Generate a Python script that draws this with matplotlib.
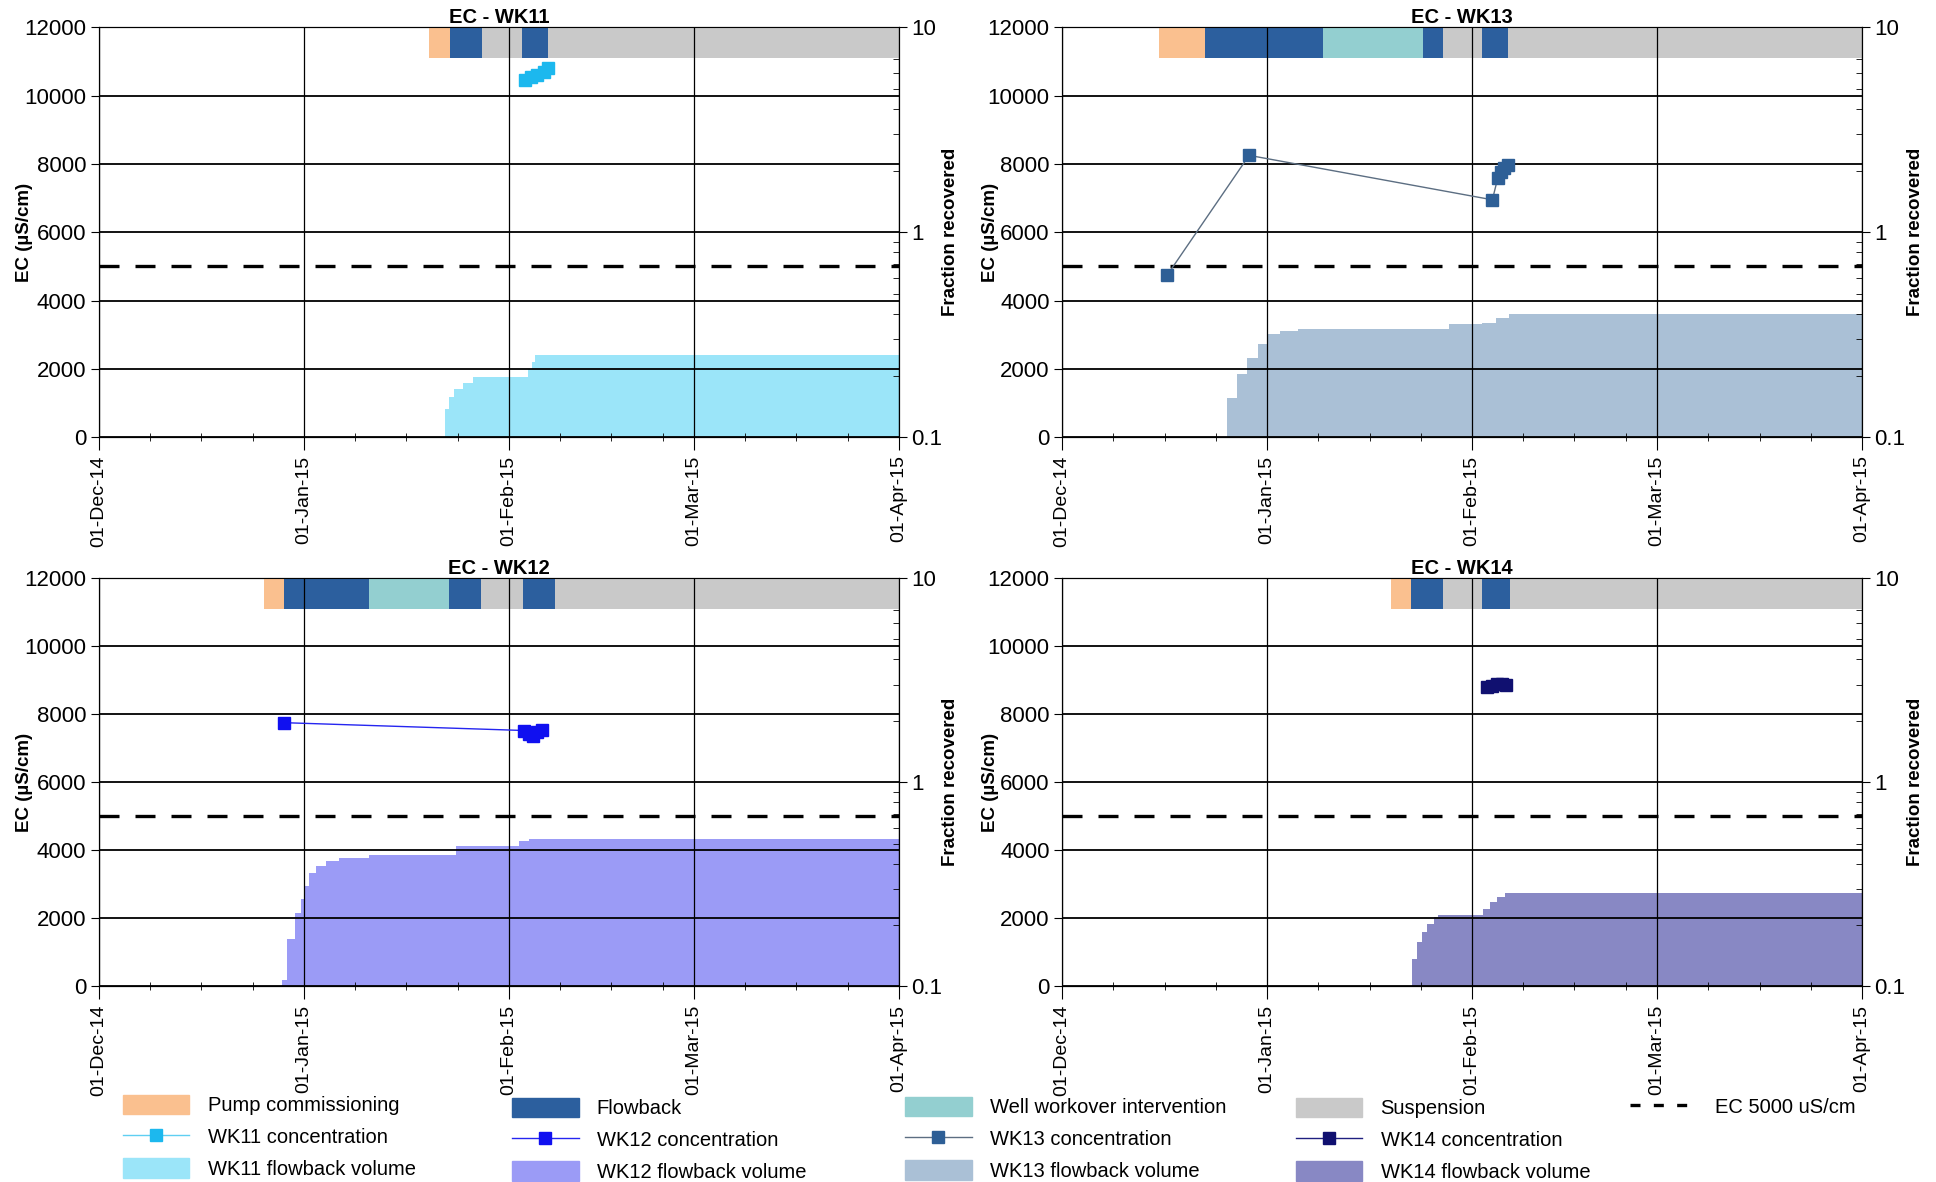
import pandas as pd
import numpy as np
import matplotlib.pyplot as plt
import matplotlib.dates as mdates
from matplotlib.patches import Patch
from matplotlib.lines import Line2D
from matplotlib.ticker import FixedLocator, LogLocator, NullFormatter, FuncFormatter

plt.rcParams['font.family'] = ['Liberation Sans Narrow', 'Liberation Sans', 'DejaVu Sans']

# ---------------------------------------------------------
# Data
# ---------------------------------------------------------
# well status periods: status name + date it starts (last one runs to 01-Apr-15)
wk11_status = ['pump', 'flowback', 'suspension', 'flowback', 'suspension']
wk11_status_dates = ['2015-01-20 00:00', '2015-01-23 02:00', '2015-01-28 00:00',
                     '2015-02-03 00:00', '2015-02-07 00:00']

wk12_status = ['pump', 'flowback', 'workover', 'flowback', 'suspension', 'flowback', 'suspension']
wk12_status_dates = ['2014-12-26 00:00', '2014-12-29 00:00', '2015-01-10 19:00', '2015-01-22 22:00',
                     '2015-01-27 19:00', '2015-02-03 02:00', '2015-02-07 22:00']

wk13_status = ['pump', 'flowback', 'workover', 'flowback', 'suspension', 'flowback', 'suspension']
wk13_status_dates = ['2014-12-15 14:00', '2014-12-22 14:00', '2015-01-09 12:00', '2015-01-24 14:00',
                     '2015-01-27 14:00', '2015-02-02 14:00', '2015-02-06 10:00']

wk14_status = ['pump', 'flowback', 'suspension', 'flowback', 'suspension']
wk14_status_dates = ['2015-01-19 19:00', '2015-01-22 19:00', '2015-01-27 14:00',
                     '2015-02-02 14:00', '2015-02-06 17:00']

# EC concentration (uS/cm)
wk11_conc_dates = ['2015-02-03 12:00', '2015-02-04 10:00', '2015-02-05 07:00', '2015-02-06 07:00', '2015-02-06 22:00']
wk11_conc = [10450, 10530, 10610, 10700, 10800]

wk12_conc_dates = ['2014-12-29 00:00', '2015-02-03 07:00', '2015-02-04 02:00', '2015-02-04 14:00',
                   '2015-02-05 07:00', '2015-02-06 00:00']
wk12_conc = [7750, 7520, 7430, 7350, 7480, 7540]

wk13_conc_dates = ['2014-12-16 22:00', '2014-12-29 07:00', '2015-02-04 02:00', '2015-02-04 22:00',
                   '2015-02-05 08:00', '2015-02-05 20:00', '2015-02-06 12:00']
wk13_conc = [4750, 8250, 6950, 7600, 7750, 7880, 7970]

wk14_conc_dates = ['2015-02-03 07:00', '2015-02-04 00:00', '2015-02-04 19:00', '2015-02-05 12:00', '2015-02-06 02:00']
wk14_conc = [8800, 8830, 8880, 8900, 8870]

# flowback volume as fraction recovered (right log axis)
wk11_vol_dates = ['2015-01-22 10:00', '2015-01-22 22:00', '2015-01-23 17:00', '2015-01-25 00:00',
                  '2015-01-26 14:00', '2015-02-03 22:00', '2015-02-04 12:00', '2015-02-05 00:00', '2015-04-01 00:00']
wk11_vol = [0.138, 0.158, 0.173, 0.185, 0.197, 0.215, 0.234, 0.251, 0.251]

wk12_vol_dates = ['2014-12-28 17:00', '2014-12-29 12:00', '2014-12-30 17:00', '2014-12-31 12:00',
                  '2015-01-01 05:00', '2015-01-01 19:00', '2015-01-02 19:00', '2015-01-04 07:00',
                  '2015-01-06 07:00', '2015-01-10 19:00', '2015-01-24 00:00', '2015-02-02 12:00',
                  '2015-02-04 00:00', '2015-04-01 00:00']
wk12_vol = [0.108, 0.170, 0.229, 0.267, 0.310, 0.361, 0.389, 0.412, 0.428, 0.438, 0.488, 0.516, 0.530, 0.530]

wk13_vol_dates = ['2014-12-26 00:00', '2014-12-27 12:00', '2014-12-29 00:00', '2014-12-30 14:00',
                  '2015-01-01 00:00', '2015-01-03 00:00', '2015-01-05 17:00', '2015-01-28 12:00',
                  '2015-02-02 12:00', '2015-02-04 14:00', '2015-02-06 14:00', '2015-04-01 00:00']
wk13_vol = [0.156, 0.203, 0.244, 0.284, 0.318, 0.330, 0.336, 0.356, 0.363, 0.384, 0.398, 0.398]

wk14_vol_dates = ['2015-01-22 22:00', '2015-01-23 17:00', '2015-01-24 10:00', '2015-01-25 05:00',
                  '2015-01-26 05:00', '2015-01-26 22:00', '2015-02-02 17:00', '2015-02-03 17:00',
                  '2015-02-04 19:00', '2015-02-06 00:00', '2015-04-01 00:00']
wk14_vol = [0.137, 0.165, 0.185, 0.203, 0.219, 0.225, 0.240, 0.259, 0.273, 0.286, 0.286]

ec_limit = 5000

status_colors = {'pump': '#FAC08F', 'flowback': '#2C5F9E', 'workover': '#93CFD0', 'suspension': '#C9C9C9'}

x_start = pd.Timestamp('2014-12-01')
x_end = pd.Timestamp('2015-04-01')
month_starts = pd.date_range(x_start, x_end, freq='MS')

# minor ticks: every 7.75 days from each month start
minor = []
for m0, m1 in zip(month_starts[:-1], month_starts[1:]):
    for k in range(1, 4):
        t = m0 + pd.Timedelta(days=7.75 * k)
        if t < m1:
            minor.append(mdates.date2num(t))


def draw_panel(rect, title, status, status_dates, conc_dates, conc, vol_dates, vol,
               marker_color, line_color, vol_color, ylab_x, frac_x):
    ax = fig.add_axes(rect)
    ax2 = ax.twinx()
    ax.set_zorder(ax2.get_zorder() + 1)
    ax.patch.set_visible(False)

    # flowback volume on the log axis (background)
    vd = pd.to_datetime(vol_dates)
    ax2.fill_between(vd, 0.1, vol, step='post', color=vol_color, lw=0)
    ax2.set_yscale('log')
    ax2.set_ylim(0.1, 10)
    ax2.yaxis.set_major_locator(FixedLocator([0.1, 1, 10]))
    ax2.yaxis.set_major_formatter(FuncFormatter(lambda v, p: f"{v:g}"))
    ax2.yaxis.set_minor_locator(LogLocator(subs=np.arange(2, 10)))
    ax2.yaxis.set_minor_formatter(NullFormatter())
    ax2.tick_params(axis='y', which='major', direction='out', length=6, labelsize=16, pad=3)
    ax2.tick_params(axis='y', which='minor', direction='in', length=4)
    ax2.set_ylabel('Fraction recovered', fontfamily='Liberation Sans', fontweight='bold', fontsize=13.5)
    ax2.yaxis.set_label_coords(frac_x, 0.5)

    # status bar along the top
    sd = [mdates.date2num(pd.Timestamp(d)) for d in status_dates] + [mdates.date2num(x_end)]
    for i, s in enumerate(status):
        ax.broken_barh([(sd[i], sd[i + 1] - sd[i])], (11100, 900), facecolors=status_colors[s], lw=0)

    # EC limit + concentrations
    ax.axhline(ec_limit, color='k', lw=2.4, ls=(0, (6, 4.8)), zorder=3)
    ax.plot(pd.to_datetime(conc_dates), conc, color=line_color, lw=1, marker='s', ms=8,
            mfc=marker_color, mec=marker_color, zorder=4)

    ax.set_xlim(x_start, x_end)
    ax.set_ylim(0, 12000)
    ax.set_yticks(range(0, 12001, 2000))
    ax.set_xticks(month_starts)
    ax.xaxis.set_major_formatter(mdates.DateFormatter('%d-%b-%y'))
    ax.xaxis.set_minor_locator(FixedLocator(minor))
    ax.tick_params(axis='x', which='major', direction='out', length=9, labelsize=14, labelrotation=90, pad=4)
    ax.tick_params(axis='x', which='minor', direction='inout', length=6)
    ax.tick_params(axis='y', which='major', direction='out', length=6, labelsize=16, pad=3)
    plt.setp(ax.get_xticklabels(), fontfamily='Liberation Sans')

    ax.set_axisbelow(False)
    ax.grid(True, axis='y', color='k', lw=1.3)
    ax.grid(True, axis='x', color='k', lw=0.9)
    for sp in ax.spines.values():
        sp.set_color('k')

    ax.set_title(title, fontsize=14.5, fontweight='bold', pad=3)
    ax.set_ylabel('EC (µS/cm)', fontfamily='Liberation Sans', fontweight='bold', fontsize=13.5)
    ax.yaxis.set_label_coords(ylab_x, 0.5)
    return ax


fig = plt.figure(figsize=(19.36, 11.82), dpi=100)

draw_panel([0.0511, 0.630, 0.4132, 0.347], 'EC - WK11', wk11_status, wk11_status_dates,
           wk11_conc_dates, wk11_conc, wk11_vol_dates, wk11_vol, '#1CB8EE', '#5FCFF2', '#9BE5F9', -0.083, 1.054)
draw_panel([0.5486, 0.630, 0.4132, 0.347], 'EC - WK13', wk13_status, wk13_status_dates,
           wk13_conc_dates, wk13_conc, wk13_vol_dates, wk13_vol, '#2E5F96', '#5C6E82', '#AAC0D6', -0.079, 1.056)
draw_panel([0.0511, 0.1654, 0.4132, 0.3456], 'EC - WK12', wk12_status, wk12_status_dates,
           wk12_conc_dates, wk12_conc, wk12_vol_dates, wk12_vol, '#1010F0', '#2525F0', '#9B9BF6', -0.083, 1.054)
draw_panel([0.5486, 0.1654, 0.4132, 0.3456], 'EC - WK14', wk14_status, wk14_status_dates,
           wk14_conc_dates, wk14_conc, wk14_vol_dates, wk14_vol, '#101070', '#202080', '#8888C4', -0.079, 1.056)

# ---------------------------------------------------------
# Legend (5 columns placed by hand)
# ---------------------------------------------------------
def conc_handle(mc, lc):
    return Line2D([], [], color=lc, lw=1, marker='s', ms=8, mfc=mc, mec=mc)

legend_cols = [
    ([Patch(color=status_colors['pump']), conc_handle('#1CB8EE', '#5FCFF2'), Patch(color='#9BE5F9')],
     ['Pump commissioning', 'WK11 concentration', 'WK11 flowback volume'], 0.0635, 0.0738),
    ([Patch(color=status_colors['flowback']), conc_handle('#1010F0', '#2525F0'), Patch(color='#9B9BF6')],
     ['Flowback', 'WK12 concentration', 'WK12 flowback volume'], 0.2645, 0.0712),
    ([Patch(color=status_colors['workover']), conc_handle('#2E5F96', '#5C6E82'), Patch(color='#AAC0D6')],
     ['Well workover intervention', 'WK13 concentration', 'WK13 flowback volume'], 0.4675, 0.0721),
    ([Patch(color=status_colors['suspension']), conc_handle('#101070', '#202080'), Patch(color='#8888C4')],
     ['Suspension', 'WK14 concentration', 'WK14 flowback volume'], 0.6694, 0.0712),
    ([Line2D([], [], color='k', lw=2.4, ls=(0, (3, 4)))], ['EC 5000 uS/cm'], 0.842, 0.0721),
]
for handles, labels, lx, ly in legend_cols:
    fig.legend(handles, labels, loc='upper left', bbox_to_anchor=(lx, ly), frameon=False,
               fontsize=14.5, handlelength=3.3, handleheight=1.1, handletextpad=0.9,
               labelspacing=0.56, borderpad=0, borderaxespad=0)

plt.savefig('out.png', dpi=100)
